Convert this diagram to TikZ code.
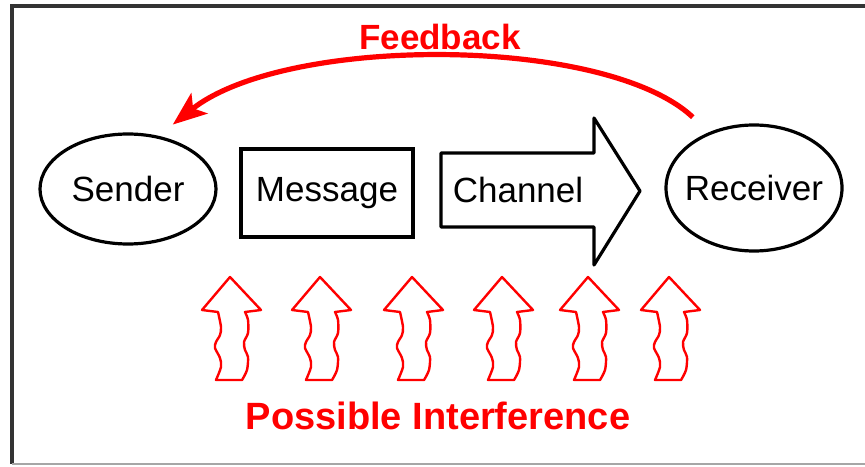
\documentclass[tikz,border=0pt]{standalone}
\usepackage{fontspec}
\setmainfont{Liberation Sans}
\usetikzlibrary{shapes.geometric,arrows.meta}
\begin{document}
\begin{tikzpicture}[x=0.5pt,y=0.5pt,
  box/.style={draw,line width=1.6pt,inner sep=0pt,font=\fontsize{17.5}{20}\selectfont},
  oval/.style={box,ellipse,inner xsep=-5pt},
  redlabel/.style={text=red,font=\bfseries\fontsize{17.5}{20}\selectfont},
  wavyarrow/.style={draw=red,line width=1.2pt,line join=round}]
\useasboundingbox (0,0) rectangle (865,466);
% frame
\draw[line width=2pt,black!80] (866,460) -- (12,460) -- (12,2);
\draw[line width=0.8pt,black!35] (12,2) -- (866,2);
% sender, message, receiver
\node[oval,minimum width=88pt,minimum height=55pt] (sender) at (128,277) {Sender};
\node[box,minimum width=86pt,minimum height=44pt] (message) at (327,273) {Message};
\node[oval,minimum width=88pt,minimum height=63pt] (receiver) at (754,278) {Receiver};
% channel arrow
\draw[line width=1.6pt,line join=round] (441,313) -- (594,313) -- (594,348) -- (640,275)
  -- (594,201) -- (594,239) -- (441,239) -- cycle;
\node[font=\fontsize{17.5}{20}\selectfont] (channel) at (518,276) {Channel};
% feedback
\draw[red,line width=2.6pt,-{Stealth[length=17pt,width=13pt,inset=4pt]},
  shorten <=11pt,shorten >=9pt] (receiver.129) .. controls (605,431) and (285,431) .. (sender.60);
\node[redlabel] (feedback) at (440,429) {Feedback};
% interference
\foreach \x in {230,320,412,502,588,669}{
  \draw[wavyarrow,shift={(\x,189)}] (0,0) -- (31,-33) -- (15,-35)
    -- plot[smooth] coordinates {(15,-35) (18,-43) (18,-56) (14,-65) (15,-73) (18,-80) (17,-93) (12,-103)}
    -- (-14,-103)
    -- plot[smooth] coordinates {(-14,-103) (-9,-90) (-10,-81) (-15,-71) (-14,-65) (-10,-58) (-9,-50) (-12,-35)}
    -- (-28,-33) -- cycle;
}
\node[redlabel,font=\bfseries\fontsize{19}{22}\selectfont] (interference) at (438,50) {Possible Interference};
\end{tikzpicture}
\end{document}
